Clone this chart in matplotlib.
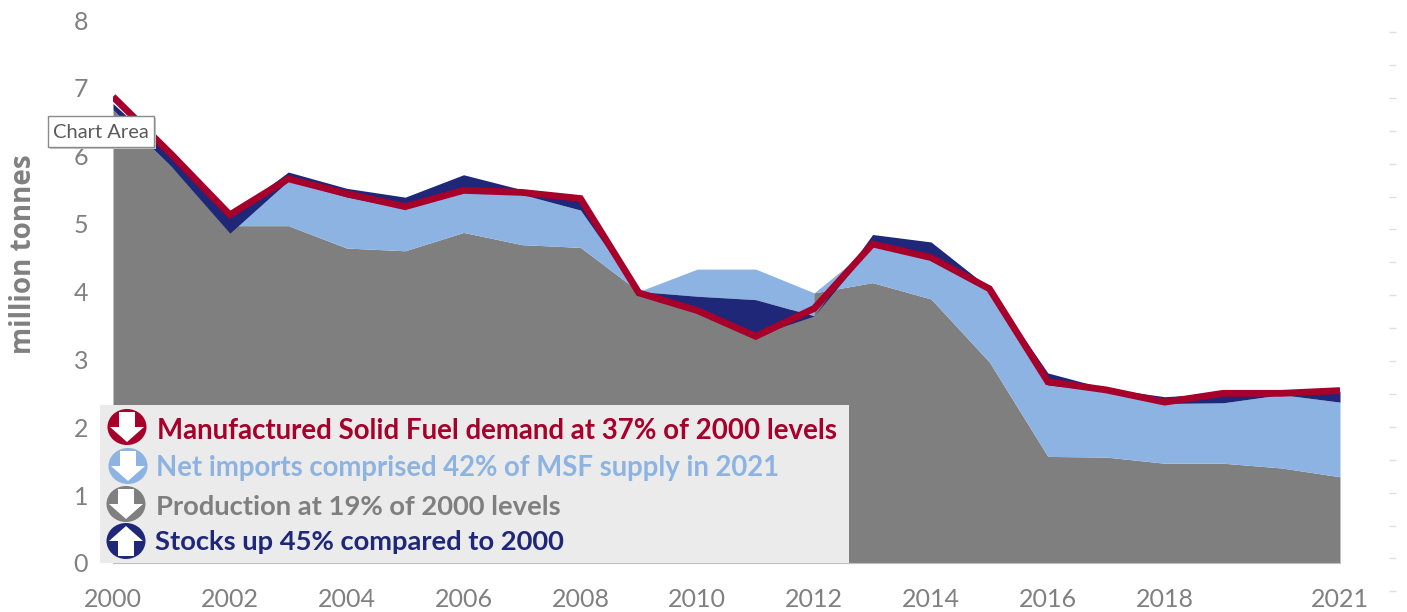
import matplotlib
matplotlib.use('Agg')
import matplotlib.pyplot as plt
import numpy as np
from matplotlib.patches import Ellipse, Polygon, Rectangle

plt.rcParams['font.family'] = ['Lato', 'DejaVu Sans']

years = np.arange(2000, 2022)
production = [6.68, 5.84, 4.97, 4.97, 4.64, 4.60, 4.87, 4.69, 4.65, 4.00, 3.70,
              3.35, 3.98, 4.13, 3.89, 2.96, 1.57, 1.56, 1.47, 1.47, 1.40, 1.27]
imports_top = [6.68, 6.02, 4.97, 5.63, 5.39, 5.22, 5.47, 5.43, 5.20, 4.00, 4.33,
               4.33, 3.98, 4.68, 4.50, 4.03, 2.62, 2.53, 2.35, 2.36, 2.48, 2.37]
# bottom of the light blue band where the stocks band sits under it
imports_low = [6.68, 5.84, 4.97, 4.97, 4.64, 4.60, 4.87, 4.69, 4.65, 4.00, 3.93,
               3.88, 3.64, 4.13, 3.89, 2.96, 1.57, 1.56, 1.47, 1.47, 1.40, 1.27]
stocks_low = [6.68, 5.84, 4.86, 5.63, 5.39, 5.22, 5.47, 5.43, 5.20, 3.98, 3.72,
              3.35, 3.64, 4.68, 4.48, 4.03, 2.62, 2.53, 2.35, 2.36, 2.48, 2.37]
stocks_top = [6.77, 5.98, 5.12, 5.76, 5.52, 5.39, 5.72, 5.50, 5.35, 4.00, 3.93,
              3.88, 3.64, 4.84, 4.73, 4.05, 2.80, 2.57, 2.45, 2.50, 2.50, 2.53]
demand = [6.87, 6.02, 5.13, 5.66, 5.44, 5.25, 5.49, 5.46, 5.37, 3.98, 3.72,
          3.34, 3.75, 4.70, 4.50, 4.04, 2.67, 2.55, 2.37, 2.50, 2.50, 2.54]

x_ticks = [2000, 2002, 2004, 2006, 2008, 2010, 2012, 2014, 2016, 2018, 2021]
y_ticks = [0, 1, 2, 3, 4, 5, 6, 7, 8]

legend_text = ['Manufactured Solid Fuel demand at 37% of 2000 levels',
               'Net imports comprised 42% of MSF supply in 2021',
               'Production at 19% of 2000 levels',
               'Stocks up 45% compared to 2000']

red = '#A6002B'
light = '#8DB3E2'
grey = '#7F7F7F'
navy = '#1F2878'

W, H = 1407, 612
fig = plt.figure(figsize=(W / 100, H / 100), dpi=100)
ax = fig.add_axes([113 / W, 1 - 563 / H, 1227 / W, 543 / H])

ax.fill_between(years, 0, production, color=grey, lw=0)
ax.fill_between(years, imports_low, imports_top, where=years <= 2012, color=light, lw=0)
ax.fill_between(years, production, imports_top, where=years >= 2012, color=light, lw=0)
ax.fill_between(years, stocks_low, stocks_top, color=navy, lw=0)
ax.plot(years, demand, color=red, lw=4.9, solid_joinstyle='miter', solid_capstyle='butt')

ax.set_xlim(2000, 2021)
ax.set_ylim(0, 8)
ax.set_xticks(x_ticks)
ax.set_yticks(y_ticks)
ax.tick_params(length=0, labelsize=18, labelcolor='#808080')
ax.tick_params(axis='x', pad=18)
ax.tick_params(axis='y', pad=18)
for s in ['top', 'right', 'left']:
    ax.spines[s].set_visible(False)
ax.spines['bottom'].set_color('#BFBFBF')

# pixel overlay for the legend box, icons, tooltip and stray ticks
ov = fig.add_axes([0, 0, 1, 1], zorder=5)
ov.set_xlim(0, W)
ov.set_ylim(H, 0)
ov.axis('off')

ov.text(24, 254, 'million tonnes', rotation=90, ha='center', va='center',
        fontsize=20, fontweight='bold', color='#808080', family='Open Sans')

ov.hlines(np.arange(32, 600, 32.9), 1389, 1396, color='#E0E0E0', lw=1)

ov.add_patch(Rectangle((100, 405), 749, 158, color='#EBEBEB', lw=0))


def icon(cx, cy, color, up=False):
    ov.add_patch(Ellipse((cx, cy), 39, 36, color=color, lw=0))
    d = -1 if up else 1
    pts = [(-8, -15), (8, -15), (8, 0), (17, 0), (0, 15), (-17, 0), (-8, 0)]
    ov.add_patch(Polygon([(cx + a, cy + d * b) for a, b in pts], color='white', lw=0))


icon(127, 427, red)
icon(128, 466, light)
icon(126, 504, grey)
icon(126, 541, navy, up=True)

ov.text(157, 431, legend_text[0], color=red, fontsize=19.9, fontweight='bold', va='center')
ov.text(156, 468, legend_text[1], color=light, fontsize=19.8, fontweight='bold', va='center')
ov.text(156, 507, legend_text[2], color=grey, fontsize=19.7, fontweight='bold', va='center')
ov.text(155, 542, legend_text[3], color=navy, fontsize=19.7, fontweight='bold', va='center')

# tooltip left over from the screenshot
ov.add_patch(Rectangle((50, 118), 106, 31, color='#C8C8C8', lw=0))
ov.add_patch(Rectangle((48, 116), 106, 31, facecolor='white', edgecolor='#8A8A8A', lw=1))
ov.text(101, 132, 'Chart Area', color='#5A5A5A', fontsize=14.5, ha='center', va='center')

fig.savefig('out.png', dpi=100)
